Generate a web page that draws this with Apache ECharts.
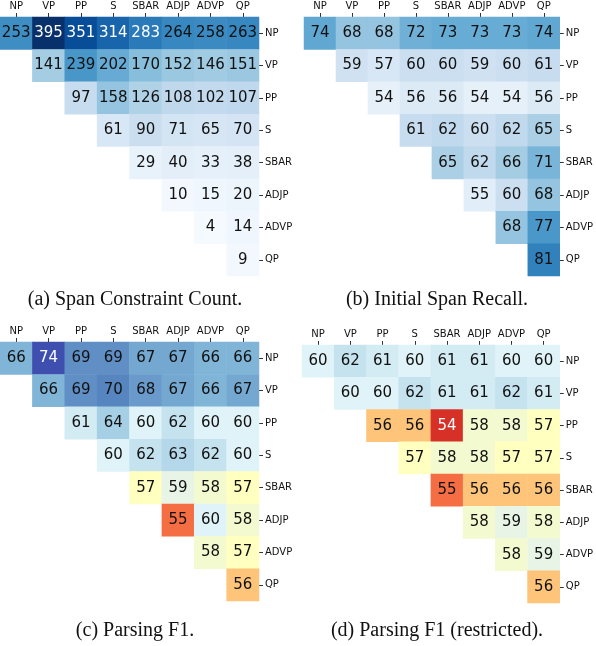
<!DOCTYPE html>
<html><head><meta charset="utf-8">
<script src="https://cdn.jsdelivr.net/npm/echarts@6/dist/echarts.min.js"></script>
<style>html,body{margin:0;padding:0;background:#fff}#c{width:596px;height:646px}</style>
</head><body><div id="c"></div>
<script>
const categories = ['NP','VP','PP','S','SBAR','ADJP','ADVP','QP'];
const spanCount = [
 [253,395,351,314,283,264,258,263],
 [141,239,202,170,152,146,151],
 [97,158,126,108,102,107],
 [61,90,71,65,70],
 [29,40,33,38],
 [10,15,20],
 [4,14],
 [9]];
const spanRecall = [
 [74,68,68,72,73,73,73,74],
 [59,57,60,60,59,60,61],
 [54,56,56,54,54,56],
 [61,62,60,62,65],
 [65,62,66,71],
 [55,60,68],
 [68,77],
 [81]];
const parsingF1 = [
 [66,74,69,69,67,67,66,66],
 [66,69,70,68,67,66,67],
 [61,64,60,62,60,60],
 [60,62,63,62,60],
 [57,59,58,57],
 [55,60,58],
 [58,57],
 [56]];
const parsingF1R = [
 [60,62,61,60,61,61,60,60],
 [60,60,62,61,61,62,61],
 [56,56,54,58,58,57],
 [57,58,58,57,57],
 [55,56,56,56],
 [58,59,58],
 [58,59],
 [56]];
const titles = ['(a) Span Constraint Count.','(b) Initial Span Recall.','(c) Parsing F1.','(d) Parsing F1 (restricted).'];

const blues = ['#f7fbff','#deebf7','#c6dbef','#9ecae1','#6baed6','#4292c6','#2171b5','#08519c','#08306b'];
const rdylbu = ['#d73027','#f46d43','#fdc47a','#ffffbf','#f4fad0','#e8f5e6','#e0f3f8','#d3ebf3','#c5e3ef','#b4d8ea','#a5cfe5','#92c2de','#80b5d8','#75a8d1','#6a9acb','#608fc5','#5685bf','#4f76ba','#4a66b5','#4459b2','#3f4fb0'];

const panels = [
 {data:spanCount, min:0, max:395, colors:blues, white:v=>v>=280, left:0, top:17, w:259, h:259, ty:297, tx:130},
 {data:spanRecall, min:50, max:95, colors:blues, white:v=>v>=90, left:304, top:17, w:257, h:259, ty:297, tx:432},
 {data:parsingF1, min:54, max:74, colors:rdylbu, white:v=>v>=73||v<=54, left:0, top:342, w:259, h:259, ty:628, tx:130},
 {data:parsingF1R, min:54, max:74, colors:rdylbu, white:v=>v>=73||v<=54, left:302, top:345, w:259, h:258, ty:628, tx:432}
];

const grid=[],xAxis=[],yAxis=[],series=[],visualMap=[],title=[];
panels.forEach((p,i)=>{
  grid.push({left:p.left, top:p.top, width:p.w, height:p.h});
  xAxis.push({type:'category', gridIndex:i, data:categories, position:'top',
    axisLine:{show:false}, axisTick:{show:true, length:4, alignWithLabel:true, interval:0, lineStyle:{color:'#333'}},
    axisLabel:{fontSize:10, interval:0, color:'#111', fontFamily:'DejaVu Sans', margin:6}, splitArea:{show:false}});
  yAxis.push({type:'category', gridIndex:i, data:categories, position:'right', inverse:true,
    axisLine:{show:false}, axisTick:{show:true, length:4, alignWithLabel:true, interval:0, lineStyle:{color:'#333'}},
    axisLabel:{fontSize:10, interval:0, color:'#111', fontFamily:'DejaVu Sans', margin:6}});
  const d=[];
  p.data.forEach((row,r)=>row.forEach((v,k)=>{
    d.push({value:[r+k, r, v], label:{color:p.white(v)?'#fff':'#111'}});
  }));
  series.push({type:'heatmap', xAxisIndex:i, yAxisIndex:i, data:d,
    label:{show:true, fontSize:15, fontFamily:'DejaVu Sans', formatter:q=>q.value[2]},
    emphasis:{disabled:true}, itemStyle:{borderWidth:0}});
  visualMap.push({show:false, seriesIndex:i, min:p.min, max:p.max, dimension:2, inRange:{color:p.colors}});
  title.push({text:titles[i], left:p.tx, top:p.ty-12, textAlign:'center',
    textStyle:{fontFamily:'Liberation Serif', fontSize:20, fontWeight:'normal', color:'#111'}});
});
const chart=echarts.init(document.getElementById('c'));
chart.setOption({animation:false, title, grid, xAxis, yAxis, series, visualMap});
</script></body></html>
